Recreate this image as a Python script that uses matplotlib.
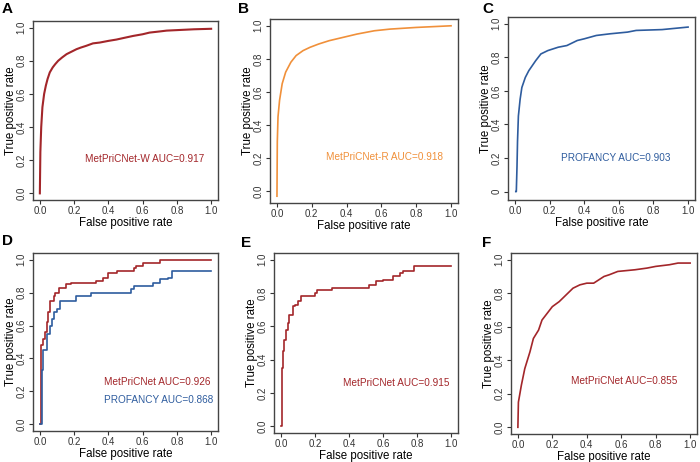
import matplotlib
matplotlib.use('Agg')
import matplotlib.pyplot as plt

plt.rcParams['font.family'] = ['Liberation Sans', 'DejaVu Sans']

red = '#a3262a'
orange = '#f0903a'
blue = '#2e5c9e'

# --- curve data (FPR, TPR) ---
a_fpr = [0.0, 0.003, 0.008, 0.015, 0.025, 0.035, 0.045, 0.058, 0.075, 0.09, 0.107, 0.13, 0.156, 0.185, 0.214,
         0.24, 0.27, 0.31, 0.35, 0.40, 0.447, 0.50, 0.545, 0.60, 0.64, 0.70, 0.74, 0.80, 0.90, 1.0]
a_tpr = [0.0, 0.25, 0.40, 0.52, 0.60, 0.65, 0.69, 0.73, 0.76, 0.78, 0.80, 0.82, 0.84, 0.855, 0.87,
         0.88, 0.89, 0.905, 0.91, 0.92, 0.928, 0.94, 0.95, 0.96, 0.97, 0.977, 0.982, 0.985, 0.99, 0.993]

b_fpr = [0.0, 0.002, 0.006, 0.015, 0.03, 0.05, 0.08, 0.11, 0.15, 0.19, 0.24, 0.30, 0.38, 0.46, 0.56, 0.65,
         0.80, 1.0]
b_tpr = [-0.03, 0.30, 0.45, 0.55, 0.65, 0.72, 0.78, 0.82, 0.85, 0.87, 0.89, 0.91, 0.93, 0.95, 0.97, 0.98,
         0.99, 1.0]

c_fpr = [0.005, 0.008, 0.012, 0.015, 0.02, 0.03, 0.04, 0.06, 0.08, 0.10, 0.12, 0.15, 0.19, 0.25, 0.30,
         0.36, 0.40, 0.47, 0.55, 0.65, 0.70, 0.85, 0.95, 1.0]
c_tpr = [0.0, 0.0, 0.15, 0.30, 0.45, 0.55, 0.62, 0.68, 0.72, 0.75, 0.78, 0.82, 0.84, 0.86, 0.87,
         0.90, 0.91, 0.93, 0.94, 0.95, 0.96, 0.965, 0.975, 0.98]

d_net_fpr = [0.0, 0.005, 0.02, 0.03, 0.04, 0.05, 0.06, 0.08, 0.09, 0.11, 0.15, 0.18, 0.33, 0.37, 0.40,
             0.45, 0.55, 0.56, 0.60, 0.70, 1.0]
d_net_tpr = [0.0, 0.48, 0.52, 0.56, 0.62, 0.68, 0.75, 0.78, 0.80, 0.83, 0.85, 0.86, 0.87, 0.89, 0.92,
             0.93, 0.95, 0.96, 0.98, 1.0, 1.0]
d_pro_fpr = [0.0, 0.01, 0.02, 0.04, 0.06, 0.07, 0.08, 0.10, 0.12, 0.21, 0.30, 0.53, 0.55, 0.66, 0.70,
             0.75, 0.77, 1.0]
d_pro_tpr = [0.0, 0.33, 0.45, 0.55, 0.60, 0.64, 0.68, 0.70, 0.75, 0.78, 0.80, 0.82, 0.84, 0.86, 0.88,
             0.89, 0.93, 0.93]

e_fpr = [0.0, 0.005, 0.015, 0.02, 0.03, 0.04, 0.05, 0.07, 0.085, 0.10, 0.12, 0.20, 0.21, 0.30, 0.52,
         0.56, 0.60, 0.66, 0.70, 0.72, 0.78, 1.0]
e_tpr = [0.0, 0.35, 0.45, 0.52, 0.58, 0.62, 0.67, 0.72, 0.73, 0.75, 0.78, 0.80, 0.82, 0.83, 0.85,
         0.87, 0.88, 0.90, 0.92, 0.93, 0.96, 0.96]

f_fpr = [0.0, 0.003, 0.02, 0.04, 0.07, 0.09, 0.12, 0.14, 0.17, 0.20, 0.24, 0.29, 0.32, 0.36, 0.40, 0.44,
         0.47, 0.50, 0.53, 0.58, 0.68, 0.75, 0.80, 0.88, 0.93, 1.0]
f_tpr = [0.0, 0.15, 0.25, 0.35, 0.45, 0.53, 0.58, 0.64, 0.68, 0.72, 0.75, 0.80, 0.83, 0.85, 0.86, 0.86,
         0.88, 0.90, 0.91, 0.93, 0.94, 0.95, 0.96, 0.97, 0.98, 0.98]

xticks = [0.0, 0.2, 0.4, 0.6, 0.8, 1.0]
yticks = [0.0, 0.2, 0.4, 0.6, 0.8, 1.0]


def px_axes(fig, x0, x1, y0, y1):
    # axes box given in pixels of the 700x462 picture
    return fig.add_axes([x0 / 700, 1 - y1 / 462, (x1 - x0) / 700, (y1 - y0) / 462])


def style(ax, letter, lx, ly, ylim=(-0.04, 1.04), zero_label='0.0'):
    ax.set_xlim(-0.04, 1.04)
    ax.set_ylim(*ylim)
    ax.set_xticks(xticks)
    ax.set_xticklabels(['0.0', '0.2', '0.4', '0.6', '0.8', '1.0'])
    ax.set_yticks(yticks)
    ax.set_yticklabels([zero_label, '0.2', '0.4', '0.6', '0.8', '1.0'], rotation=90, va='center')
    ax.tick_params(direction='out', length=3, width=0.8, colors='#333333', labelsize=7, pad=1.5)
    for s in ax.spines.values():
        s.set_color('#444444')
        s.set_linewidth(1.0)
    ax.set_xlabel('False positive rate', fontsize=8.3, labelpad=0.5)
    ax.set_ylabel('True positive rate', fontsize=8.3, labelpad=0)
    fig.text(lx / 700, 1 - ly / 462, letter, fontsize=11, fontweight='bold', ha='left', va='top')


fig = plt.figure(figsize=(7.0, 4.62), dpi=100)

ax = px_axes(fig, 33, 218, 21, 200)
ax.plot(a_fpr, a_tpr, color=red, lw=1.5)
ax.text(0.61, 0.21, 'MetPriCNet-W AUC=0.917', color=red, fontsize=7.2, ha='center', va='center')
style(ax, 'A', 2, 2)

ax = px_axes(fig, 270, 458, 19, 203)
ax.plot(b_fpr, b_tpr, color=orange, lw=1.2)
ax.text(0.62, 0.21, 'MetPriCNet-R AUC=0.918', color=orange, fontsize=7.2, ha='center', va='center')
style(ax, 'B', 238, 2, ylim=(-0.071, 1.041))

ax = px_axes(fig, 508, 695, 17, 200)
ax.plot(c_fpr, c_tpr, color=blue, lw=1.2)
ax.text(0.585, 0.20, 'PROFANCY AUC=0.903', color=blue, fontsize=7.2, ha='center', va='center')
style(ax, 'C', 482, 2, ylim=(-0.05, 1.04), zero_label='0')

ax = px_axes(fig, 33, 218, 253, 431)
ax.plot(d_net_fpr, d_net_tpr, color=red, lw=1.2, drawstyle='steps-post')
ax.plot(d_pro_fpr, d_pro_tpr, color=blue, lw=1.2, drawstyle='steps-post')
ax.text(0.374, 0.257, 'MetPriCNet AUC=0.926', color=red, fontsize=7.2, ha='left', va='center')
ax.text(0.374, 0.148, 'PROFANCY AUC=0.868', color=blue, fontsize=7.2, ha='left', va='center')
style(ax, 'D', 2, 234)

ax = px_axes(fig, 274, 458, 253, 433)
ax.plot(e_fpr, e_tpr, color=red, lw=1.2, drawstyle='steps-post')
ax.text(0.676, 0.257, 'MetPriCNet AUC=0.915', color=red, fontsize=7.2, ha='center', va='center')
style(ax, 'E', 241, 236)

ax = px_axes(fig, 511, 697, 253, 434)
ax.plot(f_fpr, f_tpr, color=red, lw=1.2)
ax.text(0.62, 0.274, 'MetPriCNet AUC=0.855', color=red, fontsize=7.2, ha='center', va='center')
style(ax, 'F', 482, 236)

fig.savefig('out.png', dpi=100)
